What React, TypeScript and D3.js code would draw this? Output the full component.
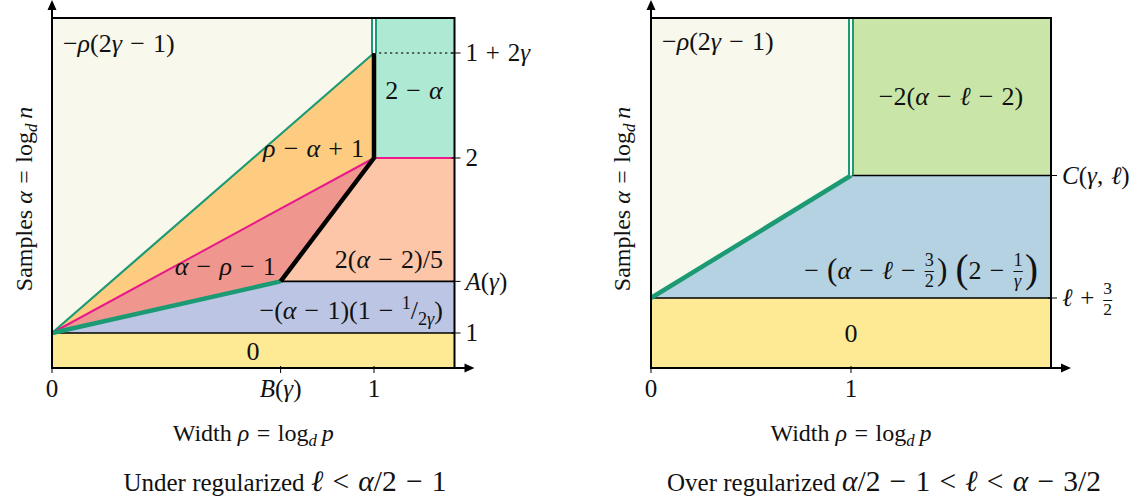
import { useEffect } from 'react'
import * as d3 from 'd3'

const FONT = 'Liberation Serif, Tinos, DejaVu Serif, serif'
const FS = 25

// ---------- left panel: under regularized ----------
const underXDomain = [0, 1.25]
const underYDomain = [0.8, 2.8]
const underXTicks = [0, 0.71, 1]
const underXTickLabels = ['0', 'B(γ)', '1']
const underYTicks = [1, 1.295, 2, 2.6]
const underYTickLabels = ['1', 'A(γ)', '2', '1 + 2γ']

const underRegions = [
  { fill: '#fee994', pts: [[0, 0.8], [1.25, 0.8], [1.25, 1], [0, 1]] },
  { fill: '#bcc6e4', pts: [[0, 1], [1.25, 1], [1.25, 1.295], [0.71, 1.295]] },
  { fill: '#ef978f', pts: [[0, 1], [0.71, 1.295], [1, 2]] },
  { fill: '#fec6a8', pts: [[0.71, 1.295], [1.25, 1.295], [1.25, 2], [1, 2]] },
  { fill: '#fdcc80', pts: [[0, 1], [1, 2], [1, 2.6]] },
  { fill: '#ade9d3', pts: [[1, 2], [1.25, 2], [1.25, 2.8], [1, 2.8]] },
]

const underLines = [
  { pts: [[0, 1], [1.25, 1]], stroke: '#000', width: 1.6 },
  { pts: [[0.71, 1.295], [1.25, 1.295]], stroke: '#000', width: 1.6 },
  { pts: [[0, 1], [1, 2.6]], stroke: '#1b9a74', width: 2.2 },
  { pts: [[0, 1], [1, 2], [1.25, 2]], stroke: '#e8198b', width: 2 },
  { pts: [[0, 1], [0.71, 1.295]], stroke: '#1b9a74', width: 4.5 },
  { pts: [[0.71, 1.295], [1, 2], [1, 2.6]], stroke: '#000', width: 4.5 },
  { pts: [[1, 2.6], [1.25, 2.6]], stroke: '#333', width: 1.3, dash: '1.3 4.2' },
]
const underDouble = [[1, 2.6], [1, 2.8]]

const underLabels = [
  { x: 0.034, y: 2.654, anchor: 'start', tex: '−ρ(2γ − 1)' },
  { x: 1.124, y: 2.386, anchor: 'middle', tex: '2 − α' },
  { x: 0.969, y: 2.053, anchor: 'end', tex: 'ρ − α + 1' },
  { x: 0.695, y: 1.378, anchor: 'end', tex: 'α − ρ − 1' },
  { x: 1.214, y: 1.422, anchor: 'end', tex: '2(α − 2)/5' },
  { x: 1.214, y: 1.13, anchor: 'end', tex: '−(α − 1)(1 − ^{1}/_{2γ})' },
  { x: 0.624, y: 0.893, anchor: 'middle', tex: '0' },
]

// ---------- right panel: over regularized ----------
const overXDomain = [0, 2]
const overYDomain = [0, 5]
const overXTicks = [0, 1]
const overXTickLabels = ['0', '1']
const overYTicks = [1, 2.75]
const overYTickLabels = ['ℓ + \\f{3}{2}', 'C(γ, ℓ)']

const overRegions = [
  { fill: '#fee994', pts: [[0, 0], [2, 0], [2, 1], [0, 1]] },
  { fill: '#b4d2e2', pts: [[0, 1], [2, 1], [2, 2.75], [1, 2.75]] },
  { fill: '#c9e6a8', pts: [[1, 2.75], [2, 2.75], [2, 5], [1, 5]] },
]

const overLines = [
  { pts: [[0, 1], [2, 1]], stroke: '#000', width: 1.6 },
  { pts: [[1, 2.75], [2, 2.75]], stroke: '#000', width: 1.6 },
  { pts: [[0, 1], [1, 2.75]], stroke: '#1b9a74', width: 4.5 },
]
const overDouble = [[1, 2.75], [1, 5]]

const overLabels = [
  { x: 0.055, y: 4.66, anchor: 'start', tex: '−ρ(2γ − 1)' },
  { x: 1.5, y: 3.876, anchor: 'middle', tex: '−2(α − ℓ − 2)' },
  { x: 1.935, y: 1.4, anchor: 'end', tex: '− \\(α − ℓ − \\f{3}{2}\\) \\[2 − \\f{1}{γ}\\]' },
  { x: 1.0, y: 0.5, anchor: 'middle', tex: '0' },
]

// ---------- tiny math text renderer ----------
type Seg = { t: string; it: boolean; shift: number; scale: number; dx?: number }
const ITALIC = /[A-Za-zα-ωℓ]/
const charW = (c: string) => (c === 'γ' ? 0.44 : 0.5)

function readGroup(s: string, i: number): [string, number] {
  if (s[i] === '{') {
    let depth = 1
    let j = i + 1
    while (j < s.length && depth > 0) {
      if (s[j] === '{') depth++
      else if (s[j] === '}') depth--
      j++
    }
    return [s.slice(i + 1, j - 1), j]
  }
  return [s[i], i + 1]
}

function parseMath(s: string, shift = 0, scale = 1, out: Seg[] = []): Seg[] {
  let i = 0
  while (i < s.length) {
    if (s.startsWith('log', i)) {
      out.push({ t: 'log', it: false, shift, scale })
      i += 3
      continue
    }
    if (s.startsWith('\\f', i)) {
      // stacked fraction: numerator, en dash as bar, denominator
      const [a, j] = readGroup(s, i + 2)
      const [b, k] = readGroup(s, j)
      const sc = scale * 0.7
      const wa = charW(a) * sc
      const wbar = 0.5 * sc
      const wb = charW(b) * sc
      out.push({ t: a, it: ITALIC.test(a), shift: shift - 0.5, scale: sc, dx: 0.04 })
      out.push({ t: '–', it: false, shift: shift - 0.09, scale: sc, dx: -wa })
      out.push({ t: b, it: ITALIC.test(b), shift: shift + 0.33, scale: sc, dx: -wbar + (wbar - wb) / 2 })
      out.push({ t: '\u200a', it: false, shift, scale, dx: (wbar - wb) / 2 + 0.04 })
      i = k
      continue
    }
    if (s.startsWith('\\(', i) || s.startsWith('\\)', i)) {
      out.push({ t: s[i + 1], it: false, shift: shift + 0.06, scale: scale * 1.2 })
      i += 2
      continue
    }
    if (s.startsWith('\\[', i) || s.startsWith('\\]', i)) {
      out.push({ t: s[i + 1] === '[' ? '(' : ')', it: false, shift: shift + 0.12, scale: scale * 1.5 })
      i += 2
      continue
    }
    const ch = s[i]
    if (ch === '_' || ch === '^') {
      const [g, j] = readGroup(s, i + 1)
      parseMath(g, shift + (ch === '_' ? 0.22 : -0.36), scale * 0.7, out)
      i = j
      continue
    }
    if (ch === ' ') {
      out.push({ t: '\u00a0', it: false, shift, scale: scale * 1.25 })
      i++
      continue
    }
    out.push({ t: ch, it: ITALIC.test(ch), shift, scale })
    i++
  }
  return out
}

function Tex({ x, y, tex, text, anchor = 'start', fs = FS, mathScale = 1 }: any) {
  const segs: Seg[] = []
  if (text) segs.push({ t: text, it: false, shift: 0, scale: 1 })
  parseMath(tex, 0, mathScale, segs)
  let cur = 0
  return (
    <text
      x={x}
      y={y + fs * 0.33}
      textAnchor={anchor}
      fill="#111"
      style={{ fontFamily: FONT, fontSize: fs, whiteSpace: 'pre' }}
    >
      {segs.map((s, i) => {
        const dy = (s.shift - cur) * fs
        cur = s.shift
        return (
          <tspan
            key={i}
            dy={dy ? dy : undefined}
            dx={s.dx ? s.dx * fs : undefined}
            style={{ fontSize: s.scale * fs, fontStyle: s.it ? 'italic' : 'normal' }}
          >
            {s.t}
          </tspan>
        )
      })}
    </text>
  )
}

const Panel = ({ left, right, top, bottom, xDomain, yDomain, xTicks, xTickLabels, yTicks, yTickLabels, regions, lines, double, labels, title, yLabelX }: any) => {
  const x = d3.scaleLinear().domain(xDomain).range([left, right])
  const y = d3.scaleLinear().domain(yDomain).range([bottom, top])
  const line = d3.line<number[]>().x((d) => x(d[0])).y((d) => y(d[1]))
  const area = (pts: number[][]) => line(pts) + 'Z'
  const cx = (left + right) / 2

  return (
    <g>
      <rect x={left} y={top} width={right - left} height={bottom - top} fill="#f8f8ed" />
      {regions.map((r: any, i: number) => (
        <path key={i} d={area(r.pts)} fill={r.fill} />
      ))}
      {lines.map((l: any, i: number) => (
        <path
          key={i}
          d={line(l.pts) as string}
          fill="none"
          stroke={l.stroke}
          strokeWidth={l.width}
          strokeDasharray={l.dash}
          strokeLinejoin="round"
          strokeLinecap={l.dash ? 'round' : 'butt'}
        />
      ))}
      <path d={line(double) as string} stroke="#1b9a74" strokeWidth={6} />
      <path d={line(double) as string} stroke="#ffffff" strokeWidth={2} />
      {/* frame */}
      <rect x={left} y={top} width={right - left} height={bottom - top} fill="none" stroke="#000" strokeWidth={2} />
      {/* axes with arrows */}
      <line x1={left} y1={bottom} x2={left} y2={6} stroke="#000" strokeWidth={2} />
      <path d={`M${left},0 L${left - 4.5},10 L${left + 4.5},10 Z`} fill="#000" />
      <line x1={left} y1={bottom} x2={right + 14} y2={bottom} stroke="#000" strokeWidth={2} />
      <path d={`M${right + 20},${bottom} L${right + 10},${bottom - 4.5} L${right + 10},${bottom + 4.5} Z`} fill="#000" />
      {/* x ticks */}
      {xTicks.map((t: number, i: number) => (
        <g key={i}>
          <line x1={x(t)} x2={x(t)} y1={bottom - 2} y2={bottom + 5} stroke="#000" strokeWidth={1} />
          <Tex x={x(t)} y={389} tex={xTickLabels[i]} anchor="middle" />
        </g>
      ))}
      {/* y ticks on right */}
      {yTicks.map((t: number, i: number) => (
        <g key={i}>
          <line x1={right - 3} x2={right + 6} y1={y(t)} y2={y(t)} stroke="#000" strokeWidth={1} />
          <Tex x={right + 11} y={y(t)} tex={yTickLabels[i]} />
        </g>
      ))}
      {labels.map((l: any, i: number) => (
        <Tex key={i} x={x(l.x)} y={y(l.y)} tex={l.tex} anchor={l.anchor} fs={26} />
      ))}
      <Tex x={cx} y={433} text="Width " tex={'ρ = log_d\u2009p'} anchor="middle" fs={24} />
      <g transform={`translate(${yLabelX},${(top + bottom) / 2 + 6}) rotate(-90)`}>
        <Tex x={0} y={0} text="Samples " tex={'α = log_d\u2009n'} anchor="middle" fs={24} />
      </g>
      <Tex x={title.x} y={483} text={title.text} tex={title.tex} anchor="middle" mathScale={1.18} />
    </g>
  )
}

export default function App() {
  useEffect(() => {
    document.body.style.margin = '0'
  }, [])
  return (
    <svg width={1141} height={504} style={{ display: 'block', background: '#fff' }}>
      <Panel
        left={52}
        right={454.5}
        top={18}
        bottom={368}
        xDomain={underXDomain}
        yDomain={underYDomain}
        xTicks={underXTicks}
        xTickLabels={underXTickLabels}
        yTicks={underYTicks}
        yTickLabels={underYTickLabels}
        regions={underRegions}
        lines={underLines}
        double={underDouble}
        labels={underLabels}
        yLabelX={24}
        title={{ x: 285, text: 'Under regularized ', tex: 'ℓ < α/2 − 1' }}
      />
      <Panel
        left={651}
        right={1051}
        top={18}
        bottom={368}
        xDomain={overXDomain}
        yDomain={overYDomain}
        xTicks={overXTicks}
        xTickLabels={overXTickLabels}
        yTicks={overYTicks}
        yTickLabels={overYTickLabels}
        regions={overRegions}
        lines={overLines}
        double={overDouble}
        labels={overLabels}
        yLabelX={622}
        title={{ x: 884, text: 'Over regularized ', tex: 'α/2 − 1 < ℓ < α − 3/2' }}
      />
    </svg>
  )
}
